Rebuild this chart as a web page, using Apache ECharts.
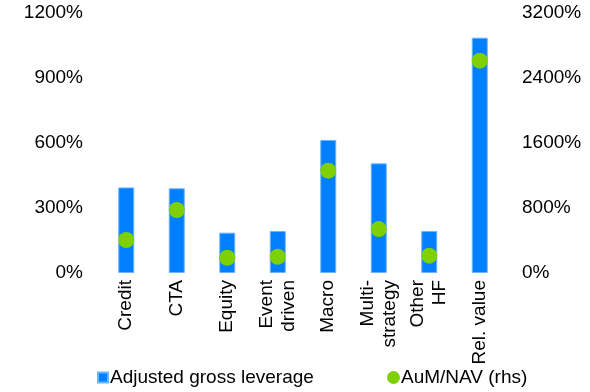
<!DOCTYPE html>
<html>
<head>
<meta charset="utf-8">
<script src="https://cdn.jsdelivr.net/npm/echarts@6/dist/echarts.min.js"></script>
<style>
html,body{margin:0;padding:0;background:#fff;}
#chart{width:590px;height:392px;}
</style>
</head>
<body>
<div id="chart"></div>
<script>
const categories = ['Credit', 'CTA', 'Equity', 'Event\ndriven', 'Macro', 'Multi-\nstrategy', 'Other\nHF', 'Rel. value'];
const leverage = [395, 391, 186, 194, 614, 506, 194, 1086];
const aumNav = [406, 775, 188, 200, 1259, 541, 213, 2613];
const leftTicks = [0, 300, 600, 900, 1200];
const rightTicks = [0, 800, 1600, 2400, 3200];
const titleText = 'Hedge fund leverage varies greatly by strategy';

const FONT = "'Liberation Sans', Arial, sans-serif";
const pct = v => v + '%';
const chart = echarts.init(document.getElementById('chart'), null, {renderer: 'canvas'});
chart.setOption({
  animation: false,
  title: {
    text: titleText,
    left: 0,
    top: -19,
    padding: 0,
    textStyle: {color: '#0070F0', fontSize: 19, fontWeight: 'bold', fontFamily: FONT, lineHeight: 19}
  },
  legend: [
    {
      data: [{name: 'Adjusted gross leverage', icon: 'rect'}],
      left: 97, top: 368, padding: 0,
      itemWidth: 10, itemHeight: 10, itemGap: 0,
      textStyle: {fontSize: 19, color: '#000', fontFamily: FONT, padding: [0, 0, 0, -3]}
    },
    {
      data: [{name: 'AuM/NAV (rhs)', icon: 'circle'}],
      left: 387, top: 368, padding: 0,
      itemWidth: 13, itemHeight: 13, itemGap: 0,
      textStyle: {fontSize: 19, color: '#000', fontFamily: FONT, padding: [0, 0, 0, -4]}
    }
  ],
  grid: {left: 101, right: 85, top: 13, bottom: 119, containLabel: false},
  xAxis: {
    type: 'category',
    data: categories,
    axisLine: {show: false},
    axisTick: {show: false},
    axisLabel: {rotate: 90, margin: 7, fontSize: 19, lineHeight: 22, color: '#000', fontFamily: FONT, interval: 0}
  },
  yAxis: [
    {
      type: 'value', min: leftTicks[0], max: leftTicks[leftTicks.length - 1], interval: leftTicks[1] - leftTicks[0],
      splitLine: {show: false}, axisLine: {show: false}, axisTick: {show: false},
      axisLabel: {formatter: pct, fontSize: 19, color: '#000', fontFamily: FONT, margin: 18}
    },
    {
      type: 'value', min: rightTicks[0], max: rightTicks[rightTicks.length - 1], interval: rightTicks[1] - rightTicks[0],
      splitLine: {show: false}, axisLine: {show: false}, axisTick: {show: false},
      axisLabel: {formatter: pct, fontSize: 19, color: '#000', fontFamily: FONT, margin: 17}
    }
  ],
  series: [
    {
      name: 'Adjusted gross leverage',
      type: 'bar',
      data: leverage,
      barWidth: 16,
      yAxisIndex: 0,
      itemStyle: {color: '#0080FF', borderColor: '#6FB3FF', borderWidth: 1}
    },
    {
      name: 'AuM/NAV (rhs)',
      type: 'scatter',
      data: aumNav,
      yAxisIndex: 1,
      symbol: 'circle',
      symbolSize: 16,
      itemStyle: {color: '#7FD000', opacity: 1}
    }
  ]
});
</script>
</body>
</html>
